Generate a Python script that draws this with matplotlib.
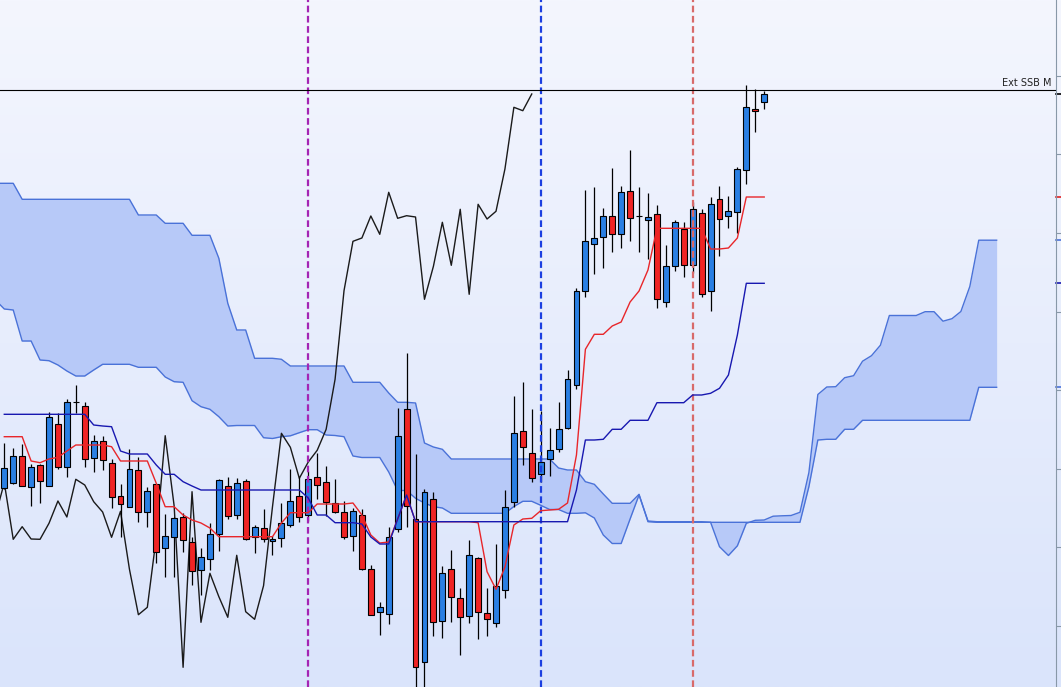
import numpy as np
import matplotlib.pyplot as plt
import matplotlib.transforms as mtransforms

# candles, one per bar (price units)
opens = [211.7, 216.7, 244.3, 212.7, 234.7, 214, 275.7, 233.3, 298.3, 294,
         241.7, 259, 236.7, 204, 193.3, 230, 188.3, 216, 151.7, 162.7,
         183, 157.7, 130, 141, 166, 214, 185, 218.7, 163.3, 172.3,
         158.7, 161.7, 174.7, 203.7, 185, 223, 217.7, 197.3, 188.3, 164,
         184.7, 130.7, 88.3, 86, 170.7, 290.7, 180.7, 37.7, 200.7, 79.3,
         130.7, 101.7, 84, 141.7, 86.7, 76.7, 110, 198.3, 269, 246.7,
         225.7, 240.7, 250.7, 271.7, 315, 409.3, 455.7, 462.7, 484, 465.7,
         509, 484.3, 479.7, 485.7, 397.7, 434, 471, 434.7, 486.7, 408.7,
         501, 483.7, 488, 530, 591.3, 597.7]
closes = [231.7, 244.3, 214, 232.7, 219, 283.3, 233.3, 297.7, 298.3, 240.7,
          259, 240, 202.7, 196, 231, 187.7, 209, 148.3, 164, 182,
          159.7, 129.3, 143.3, 165.7, 219.7, 184, 217.3, 160.7, 173.3, 161,
          160.7, 176.7, 199, 183, 220.7, 215, 198.3, 188, 162.7, 188.7,
          130.7, 85.3, 92.7, 162.7, 264.3, 194, 32.7, 208.3, 77.7, 126.7,
          103.3, 82.7, 144.7, 88.3, 80.7, 114.3, 193.3, 266.7, 252.7, 221.7,
          238, 249.7, 270.7, 320.7, 409.3, 458.7, 462, 484, 465.7, 507.7,
          481.7, 484.3, 483, 400.7, 433.7, 477.7, 434.7, 490.7, 405.7, 495.7,
          481, 488.7, 531, 592.7, 589.3, 606]
highs = [256.7, 251.7, 256, 235.7, 235.7, 288.3, 286.7, 300.7, 315, 298,
         264.7, 264, 240.7, 215.7, 250.7, 242.7, 213.3, 216, 186, 183.3,
         186.7, 162.7, 151.7, 176.7, 220.7, 223.3, 222.3, 220.7, 175, 190.7,
         164, 197.3, 230.7, 223.3, 229.3, 246.7, 234, 221, 199, 191.7,
         190.7, 135, 98.3, 173.3, 291.7, 346.7, 245.7, 210.7, 208.3, 134,
         150, 111.7, 160, 143.3, 111.7, 156, 210, 304, 318.3, 291,
         289.3, 271.7, 297.7, 330, 412, 510, 512.7, 492.3, 531.7, 514,
         550, 512.7, 506.7, 495, 455, 480, 477.7, 498.3, 490.7, 503.3,
         514, 504, 532.7, 615, 610.7, 609.3]
lows = [211, 215.7, 214, 194.3, 197.3, 214, 231.3, 223.3, 287.3, 233.3,
        228.3, 230, 191.7, 163.3, 192.7, 178.3, 172.7, 137.3, 123.3, 123.3,
        148.3, 114.7, 105, 130, 149.3, 180.7, 181, 160, 147.3, 158.3,
        145, 153.3, 173.3, 178.3, 179.3, 201.3, 184, 186.7, 160.7, 149.3,
        130, 84.7, 65, 76, 168.3, 173.3, 10, 10, 64, 61.7,
        78.3, 45, 77.3, 60.7, 64, 73.3, 101.7, 193.3, 235, 218.3,
        218.3, 224.3, 247.7, 270.7, 311, 402.7, 425.7, 431.7, 448.3, 451.7,
        459.3, 448.3, 441, 392.3, 393.3, 429.3, 422.7, 427.3, 403.3, 389.3,
        444, 471.7, 466.7, 516, 568.3, 590.7]

# tenkan-sen / kijun-sen, one per bar
tenkan = [263.3, 263.3, 263.3, 239, 237.3, 241, 242.7, 249, 255, 255,
          255, 255, 253.3, 239, 239, 239, 239, 216.7, 193.3, 193.3,
          185, 180, 177, 172, 163.3, 163.3, 163.3, 163.3, 163.3, 163.3,
          163.3, 177, 187.3, 187.3, 187.3, 196, 196, 196, 196, 197,
          185, 165, 157, 158, 181, 205, 178.3, 178.3, 178.3, 178.3,
          178.3, 178.3, 178.3, 177.3, 128.3, 110.7, 133, 175, 181, 181.7,
          189.3, 190, 190.7, 197, 245, 350.7, 365.7, 365.7, 374, 378,
          398, 409, 430, 471.7, 471.7, 471.7, 471.7, 471.7, 471.7, 451,
          451, 452, 462, 503, 503, 503]
kijun = [285.7, 285.7, 285.7, 285.7, 285.7, 285.7, 285.7, 285.7, 285.7, 285.7,
         275, 274, 273.3, 249, 246, 246, 246, 235, 225.7, 225.7,
         218.3, 214, 210, 210, 210, 210, 210, 210, 210, 210,
         210, 210, 210, 210, 202, 185, 185, 177.3, 177.3, 177.3,
         176, 163, 156, 156, 181, 205, 178.3, 178.3, 178.3, 178.3,
         178.3, 178.3, 178.3, 178.3, 178.3, 178.3, 178.3, 178.3, 178.3, 178.3,
         178.3, 178.3, 178.3, 178.3, 210, 260, 260, 260.7, 270.7, 270.7,
         279.7, 279.7, 279.7, 297.3, 297.3, 297.3, 297.3, 305, 305, 306.7,
         311.7, 325, 365, 416.7, 416.7, 416.7]

# cloud, bars -1 .. 111 (26 bars ahead of price)
span_a = [400, 391, 390, 359, 359, 340, 339.3, 335, 329, 324,
          324, 330, 335.7, 335.7, 335.7, 335.7, 332.7, 332.7, 332.7, 323,
          318.3, 317.7, 299.3, 293.3, 290.7, 283.3, 274, 274.5, 274.5, 274.5,
          262.3, 261.5, 263.3, 264.2, 267.3, 270.3, 270.3, 265, 264.5, 263.3,
          244, 242.5, 242.5, 242.5, 228, 209.5, 209.5, 201.7, 197, 193.3,
          192, 186.7, 186.7, 186.7, 186.7, 186.7, 186.7, 186.7, 193.5, 198.7,
          198.7, 194.7, 190.5, 190.5, 186.7, 186.7, 187.2, 182, 165, 156.5,
          156.5, 181, 205, 179, 178.3, 178.3, 178.3, 178.3, 178.3, 178.3,
          177.8, 153.3, 144.5, 154.2, 176.7, 179.7, 180, 183.8, 184.2, 184.5,
          187.7, 227.5, 305.5, 313, 313.3, 322.3, 324.3, 338.8, 344.3, 354.8,
          384.5, 384.5, 384.5, 384.5, 388.3, 388.3, 378.8, 381.3, 388.5, 413.5,
          459.8, 459.8, 459.8]
span_b = ([516.7] * 3 + [500.7] * 13 + [485] * 3 + [476.7] * 3 + [464.7] * 3
          + [441.7, 396.7, 370, 370, 341.7, 341.7, 341.7, 340.7]
          + [334] * 7 + [317.7] * 4
          + [307, 297.7, 297.7, 297, 257, 253, 250.7]
          + [241] * 12
          + [232, 230, 230, 218.3, 215.7, 206, 196.7, 196.7, 196.7, 205.7, 178.3]
          + [177.7] * 17
          + [213.3, 260, 260.7, 260.7, 270.7, 270.7]
          + [279.7] * 13 + [312.7] * 3)

ext_ssb = 610
markers = [34, 60, 77]
marker_colors = ['#a424b4', '#1c3fe0', '#d86a6a']
yticks = [74, 153, 231, 310, 388, 467, 546, 624]

opens = np.array(opens)
closes = np.array(closes)
highs = np.array(highs)
lows = np.array(lows)
x = np.arange(len(closes))
xc = np.arange(-1, len(span_a) - 1)

fig = plt.figure(figsize=(10.61, 6.87), dpi=100)

# fondo degradado
bg = fig.add_axes([0, 0, 1, 1], zorder=-1)
top = np.array([244, 246, 254]) / 255
bottom = np.array([218, 228, 251]) / 255
t = np.linspace(0, 1, 256)[:, None, None]
grad = top * (1 - t) + bottom * t
bg.imshow(grad, aspect='auto', extent=[0, 1, 0, 1])
bg.axis('off')

ax = fig.add_axes([0, 0, 1056 / 1061, 1])
ax.set_facecolor('none')

# nube
ax.fill_between(xc, span_a, span_b, color='#b7c9f8', lw=0, zorder=1)
ax.plot(xc, span_a, color='#4a72d8', lw=1, zorder=1.5)
ax.plot(xc, span_b, color='#4a72d8', lw=1, zorder=1.5)

# chikou
ax.plot(x - 26, closes, color='#1a1a1a', lw=1, zorder=2)

# velas
up = closes >= opens
colores = np.where(up, '#2a7fe3', '#f02424')
ax.vlines(x, lows, highs, color='black', lw=0.9, zorder=3)
ax.bar(x, np.abs(closes - opens), bottom=np.minimum(opens, closes), width=0.66,
       color=colores, edgecolor='black', linewidth=0.8, zorder=3.5)

for m, c in zip(markers, marker_colors):
    ax.axvline(m, color=c, lw=1.6, linestyle=(0, (3, 1.6)), zorder=4)

ax.plot(x, tenkan, color='#e8262a', lw=1, zorder=5)
ax.plot(x, kijun, color='#1818b0', lw=1, zorder=5)

ax.axhline(ext_ssb, color='black', lw=0.8, zorder=5)
trans = mtransforms.blended_transform_factory(ax.transAxes, ax.transData)
ax.text(0.996, ext_ssb + 2, 'Ext SSB M', transform=trans, ha='right',
        va='bottom', fontsize=7, color='#222222')

# marcas de valor en el eje
for val, c in [(closes[-1], 'black'), (tenkan[-1], '#e02020'), (span_a[-1], '#4a72d8'),
               (kijun[-1], '#1818b0'), (span_b[-1], '#4a72d8')]:
    ax.plot([1.0, 1.0047], [val, val], transform=trans, color=c, lw=1.2, clip_on=False)

ax.set_xlim(-0.48, 117.64)
ax.set_ylim(13, 700)
for s in ['left', 'top', 'bottom']:
    ax.spines[s].set_visible(False)
ax.spines['right'].set_color('#8898a8')
ax.set_xticks([])
ax.yaxis.tick_right()
ax.set_yticks(yticks)
ax.tick_params(axis='y', length=4, color='#8898a8', labelright=False)

fig.savefig('out.png', dpi=100)
